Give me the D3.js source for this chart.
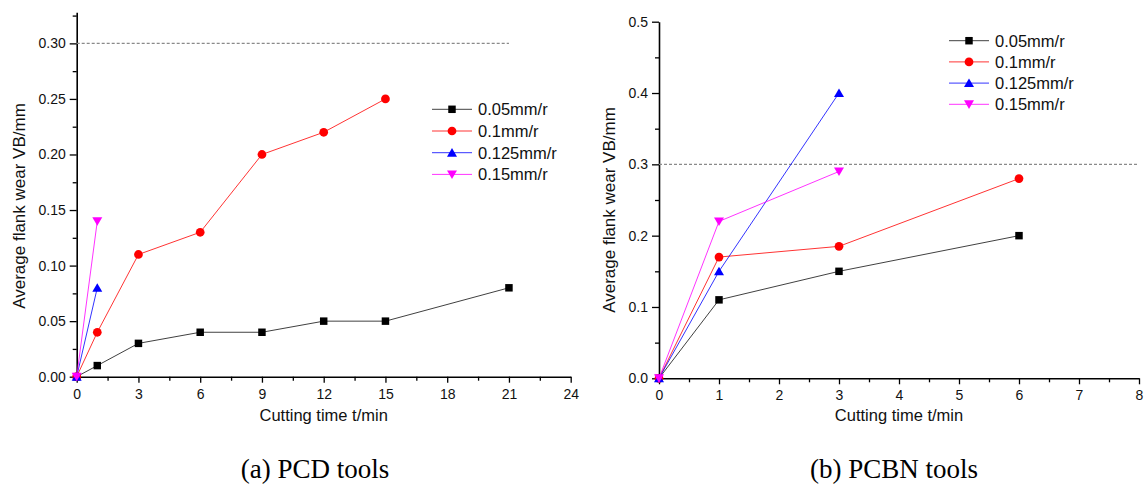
<!DOCTYPE html>
<html><head><meta charset="utf-8">
<script src="https://cdn.jsdelivr.net/npm/d3@7"></script>
<style>body{margin:0;background:#fff}svg{display:block}</style>
</head><body><svg id="c" width="1146" height="496"></svg>
<script>
// ---- data ----
const seriesNames = ["0.05mm/r", "0.1mm/r", "0.125mm/r", "0.15mm/r"];
const seriesColors = ["#000000", "#ff0000", "#0000ff", "#ff00ff"];
const seriesSymbols = ["square", "circle", "triUp", "triDown"];

// (a) PCD tools
const pcdTime = [
  [0, 1, 3, 6, 9, 12, 15, 21],
  [0, 1, 3, 6, 9, 12, 15],
  [0, 1],
  [0, 1]
];
const pcdWear = [
  [0, 0.01, 0.03, 0.04, 0.04, 0.05, 0.05, 0.08],
  [0, 0.04, 0.11, 0.13, 0.20, 0.22, 0.25],
  [0, 0.08],
  [0, 0.14]
];
const pcdXTicks = [0, 3, 6, 9, 12, 15, 18, 21, 24];
const pcdYTicks = [0, 0.05, 0.10, 0.15, 0.20, 0.25, 0.30];
const pcdLimit = 0.30, pcdLimitSpan = [0, 21];

// (b) PCBN tools
const pcbnTime = [
  [0, 1, 3, 6],
  [0, 1, 3, 6],
  [0, 1, 3],
  [0, 1, 3]
];
const pcbnWear = [
  [0, 0.11, 0.15, 0.20],
  [0, 0.17, 0.185, 0.28],
  [0, 0.15, 0.40],
  [0, 0.22, 0.29]
];
const pcbnXTicks = [0, 1, 2, 3, 4, 5, 6, 7, 8];
const pcbnYTicks = [0, 0.1, 0.2, 0.3, 0.4, 0.5];
const pcbnLimit = 0.30, pcbnLimitSpan = [0, 8];

const xTitle = "Cutting time t/min";
const yTitle = "Average flank wear VB/mm";
const captions = ["(a) PCD tools", "(b) PCBN tools"];

// ---- drawing ----
const svg = d3.select("#c");
const SANS = "'Liberation Sans', Arial, sans-serif";
const SERIF = "'Liberation Serif', 'Times New Roman', serif";

function symbolPath(kind) {
  if (kind === "square") return d3.symbol(d3.symbolSquare, 56)();
  if (kind === "circle") return d3.symbol(d3.symbolCircle, 60)();
  if (kind === "triUp") return "M0,-4.6L5,4L-5,4Z";
  return "M0,4.6L5,-4L-5,-4Z";
}

function panel(cfg) {
  const g = svg.append("g");
  const x = d3.scaleLinear().domain(cfg.xDomain).range(cfg.xRange);
  const y = d3.scaleLinear().domain(cfg.yDomain).range(cfg.yRange);

  // minor ticks
  const xMinor = [];
  for (let i = 0; i < cfg.xTicks.length - 1; i++) xMinor.push((cfg.xTicks[i] + cfg.xTicks[i + 1]) / 2);
  const yMinor = [];
  for (let i = 0; i < cfg.yTicks.length - 1; i++) yMinor.push((cfg.yTicks[i] + cfg.yTicks[i + 1]) / 2);
  if (cfg.yExtraMinor) yMinor.push(...cfg.yExtraMinor);

  g.append("g").attr("transform", `translate(0,${cfg.yRange[0]})`)
    .call(d3.axisBottom(x).tickValues(cfg.xTicks).tickFormat(cfg.xFmt).tickSize(6).tickPadding(6).tickSizeOuter(0));
  g.append("g").attr("transform", `translate(0,${cfg.yRange[0]})`)
    .call(d3.axisBottom(x).tickValues(xMinor).tickFormat("").tickSize(4).tickSizeOuter(0))
    .select(".domain").remove();
  g.append("g").attr("transform", `translate(${cfg.xRange[0]},0)`)
    .call(d3.axisLeft(y).tickValues(cfg.yTicks).tickFormat(cfg.yFmt).tickSize(7).tickPadding(4).tickSizeOuter(0));
  g.append("g").attr("transform", `translate(${cfg.xRange[0]},0)`)
    .call(d3.axisLeft(y).tickValues(yMinor).tickFormat("").tickSize(4).tickSizeOuter(0))
    .select(".domain").remove();

  g.selectAll(".domain").attr("stroke", "#000").attr("stroke-width", 1.6);
  g.selectAll(".tick line").attr("stroke", "#000").attr("stroke-width", 1.3);
  g.selectAll(".tick text").attr("font-family", SANS).attr("font-size", 14).attr("fill", "#111");

  // limit line
  g.append("line")
    .attr("x1", x(cfg.limitSpan[0])).attr("x2", x(cfg.limitSpan[1]))
    .attr("y1", y(cfg.limit)).attr("y2", y(cfg.limit))
    .attr("stroke", "#8a8a8a").attr("stroke-width", 1.2).attr("stroke-dasharray", "3,2");

  // series
  const line = d3.line().x(d => x(d[0])).y(d => y(d[1]));
  cfg.times.forEach((ts, si) => {
    const pts = ts.map((t, i) => [t, cfg.wear[si][i]]);
    g.append("path").datum(pts).attr("d", line).attr("fill", "none")
      .attr("stroke", seriesColors[si]).attr("stroke-width", 1).attr("stroke-opacity", si === 0 ? 0.75 : 0.8);
    g.selectAll(null).data(pts).enter().append("path")
      .attr("d", symbolPath(seriesSymbols[si]))
      .attr("transform", d => `translate(${x(d[0])},${y(d[1])})`)
      .attr("fill", seriesColors[si]);
  });

  // legend
  const lg = g.append("g");
  seriesNames.forEach((name, i) => {
    const yy = cfg.legend.y + i * cfg.legend.dy;
    lg.append("line").attr("x1", cfg.legend.x).attr("x2", cfg.legend.x + 40)
      .attr("y1", yy).attr("y2", yy).attr("stroke", seriesColors[i]).attr("stroke-width", 1)
      .attr("stroke-opacity", i === 0 ? 0.75 : 0.8);
    lg.append("path").attr("d", symbolPath(seriesSymbols[i]))
      .attr("transform", `translate(${cfg.legend.x + 20},${yy})`).attr("fill", seriesColors[i]);
    lg.append("text").attr("x", cfg.legend.x + 46).attr("y", yy).attr("dy", "0.36em")
      .attr("font-family", SANS).attr("font-size", 16.5).attr("fill", "#111").text(name);
  });

  // titles
  const cx = (cfg.xRange[0] + cfg.xRange[1]) / 2;
  g.append("text").attr("x", cx).attr("y", cfg.xTitleY).attr("text-anchor", "middle")
    .attr("font-family", SANS).attr("font-size", 16.5).attr("fill", "#111").text(xTitle);
  g.append("text").attr("transform", `translate(${cfg.yTitleX},${cfg.yTitleCY}) rotate(-90)`)
    .attr("text-anchor", "middle").attr("dy", "0.35em")
    .attr("font-family", SANS).attr("font-size", 17).attr("fill", "#111").text(yTitle);
  g.append("text").attr("x", cfg.captionX).attr("y", cfg.captionY).attr("text-anchor", "middle")
    .attr("font-family", SERIF).attr("font-size", 27).attr("fill", "#000").text(cfg.caption);
}

panel({
  xDomain: [0, 24], xRange: [76.7, 570.7],
  yDomain: [0, 0.328], yRange: [376.7, 376.7 - 0.328 * 1111.1],
  xTicks: pcdXTicks, yTicks: pcdYTicks, yExtraMinor: [0.325],
  xFmt: d3.format("d"), yFmt: d3.format(".2f"),
  limit: pcdLimit, limitSpan: pcdLimitSpan,
  times: pcdTime, wear: pcdWear,
  legend: { x: 432, y: 109.3, dy: 21.7 },
  xTitleY: 421, yTitleX: 19, yTitleCY: 206, captionX: 315, captionY: 478, caption: captions[0]
});

panel({
  xDomain: [0, 8], xRange: [659, 1139],
  yDomain: [0, 0.5], yRange: [378.3, 21.7],
  xTicks: pcbnXTicks, yTicks: pcbnYTicks,
  xFmt: d3.format("d"), yFmt: d3.format(".1f"),
  limit: pcbnLimit, limitSpan: pcbnLimitSpan,
  times: pcbnTime, wear: pcbnWear,
  legend: { x: 949, y: 40.7, dy: 21.2 },
  xTitleY: 421, yTitleX: 609, yTitleCY: 210, captionX: 894, captionY: 478, caption: captions[1]
});
</script>
</body></html>
